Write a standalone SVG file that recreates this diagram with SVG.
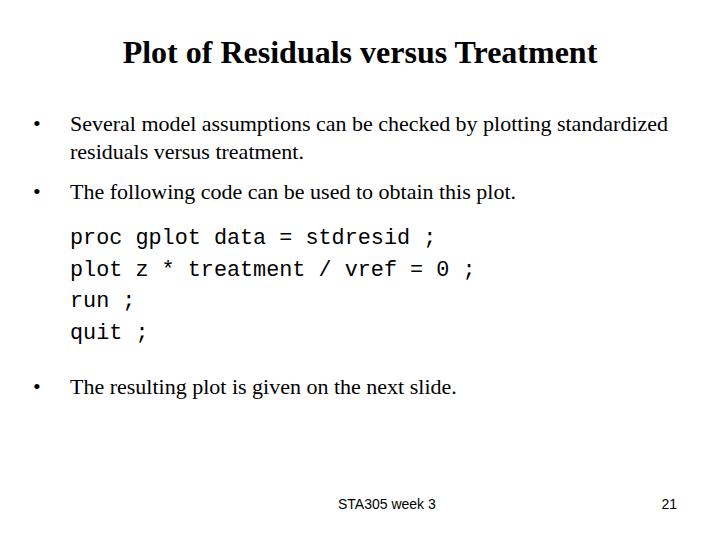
<svg xmlns="http://www.w3.org/2000/svg" width="720" height="540" viewBox="0 0 720 540">
<style>
.t{font-family:"Liberation Serif",serif;font-size:22px;fill:#000}
.m{font-family:"Liberation Mono",monospace;font-size:21.8px;fill:#000}
.s{font-family:"Liberation Sans",sans-serif;font-size:14px;fill:#000}
</style>
<rect width="720" height="540" fill="#fff"/>
<text x="360" y="63" text-anchor="middle" style="font-family:'Liberation Serif',serif;font-size:32px;font-weight:bold">Plot of Residuals versus Treatment</text>
<text class="t" x="33" y="131">•</text>
<text class="t" x="70" y="131" textLength="598">Several model assumptions can be checked by plotting standardized</text>
<text class="t" x="70" y="159">residuals versus treatment.</text>
<text class="t" x="33" y="199">•</text>
<text class="t" x="70" y="199">The following code can be used to obtain this plot.</text>
<text class="m" x="70" y="244" xml:space="preserve">proc gplot data = stdresid ;</text>
<text class="m" x="70" y="276" xml:space="preserve">plot z * treatment / vref = 0 ;</text>
<text class="m" x="70" y="307" xml:space="preserve">run ;</text>
<text class="m" x="70" y="339" xml:space="preserve">quit ;</text>
<text class="t" x="33" y="394">•</text>
<text class="t" x="70" y="394">The resulting plot is given on the next slide.</text>
<text class="s" x="338" y="509">STA305 week 3</text>
<text class="s" x="677" y="509" text-anchor="end">21</text>
</svg>
